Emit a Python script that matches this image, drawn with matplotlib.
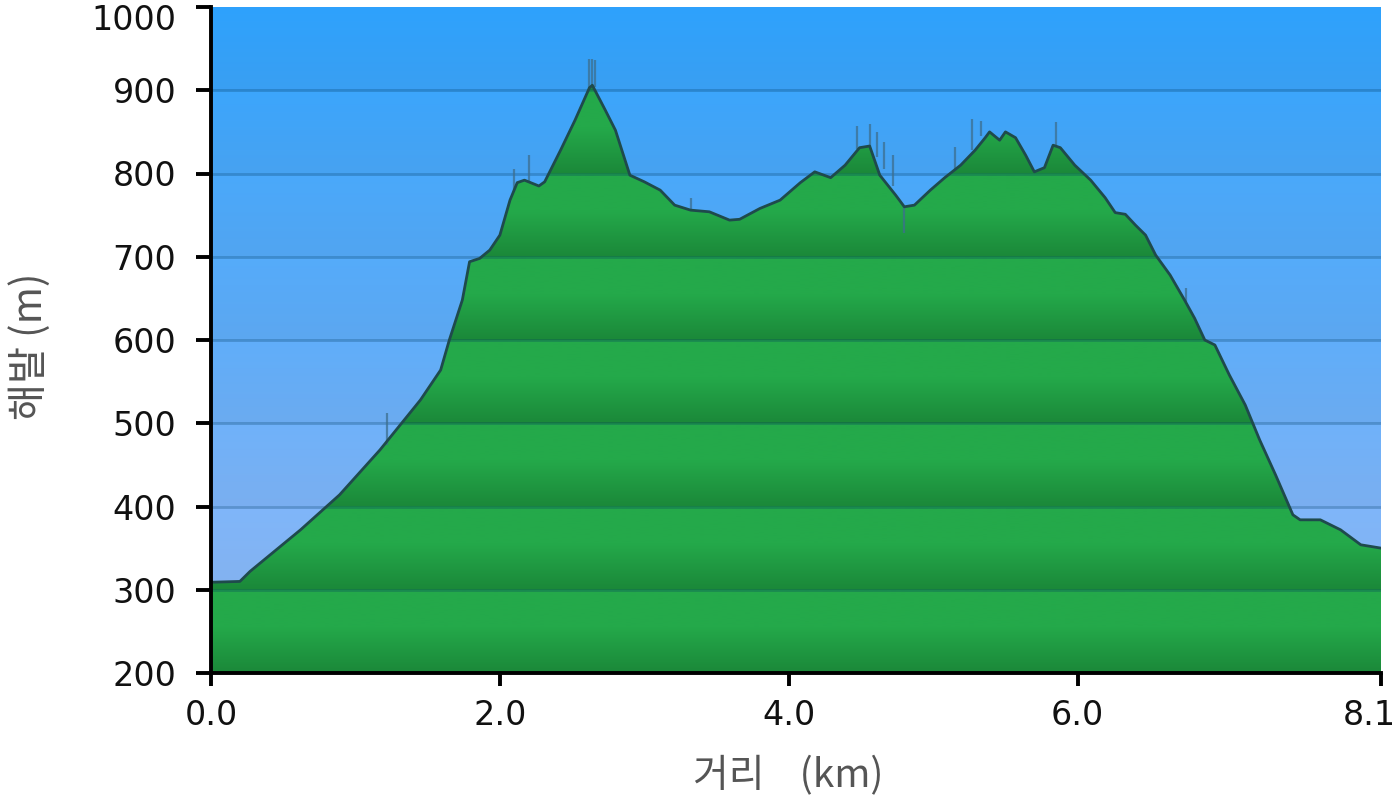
import numpy as np
import matplotlib
matplotlib.use("Agg")
import matplotlib.pyplot as plt
from matplotlib.colors import to_rgb
from matplotlib.patches import Polygon
from matplotlib.transforms import ScaledTranslation

# ---- data (distance km, elevation m) ----
dist = [0.0, 0.2, 0.27, 0.62, 0.89, 1.17, 1.45, 1.59, 1.65, 1.74, 1.79, 1.86, 1.93, 2.0,
        2.07, 2.12, 2.17, 2.27, 2.31, 2.42, 2.52, 2.62, 2.64, 2.73, 2.80, 2.90, 3.0, 3.11,
        3.21, 3.32, 3.45, 3.59, 3.66, 3.80, 3.94, 4.08, 4.18, 4.29, 4.39, 4.49, 4.56, 4.63,
        4.74, 4.80, 4.87, 4.98, 5.08, 5.19, 5.29, 5.36, 5.39, 5.46, 5.50, 5.57, 5.64, 5.70,
        5.77, 5.83, 5.88, 5.98, 6.09, 6.19, 6.26, 6.33, 6.40, 6.47, 6.54, 6.64, 6.74, 6.81,
        6.88, 6.95, 7.05, 7.16, 7.26, 7.37, 7.49, 7.54, 7.68, 7.82, 7.96, 8.1]
elev = [309, 310, 322, 372, 414, 468, 528, 564, 600, 648, 694, 698, 708, 726,
        768, 789, 792, 785, 790, 828, 864, 903, 906, 876, 852, 798, 790, 780,
        762, 756, 754, 744, 745, 758, 768, 789, 802, 795, 810, 831, 833, 798,
        774, 760, 762, 780, 795, 810, 828, 843, 850, 840, 850, 843, 822, 802,
        807, 834, 831, 810, 792, 771, 753, 751, 738, 726, 702, 678, 648, 626,
        600, 594, 558, 522, 480, 438, 390, 384, 384, 372, 354, 350]

# noisy raw-GPS spikes: (distance, base elevation, tip elevation)
spike_x = [1.22, 2.10, 2.20, 2.62, 2.64, 2.66, 3.32, 4.47, 4.56, 4.61, 4.66, 4.72, 4.80,
           5.15, 5.27, 5.33, 5.85, 6.75]
spike_base = [474, 778, 790, 900, 906, 904, 756, 830, 833, 820, 805, 785, 760,
              805, 828, 845, 834, 646]
spike_tip = [512, 806, 822, 938, 938, 936, 770, 857, 860, 850, 838, 822, 728,
             832, 865, 863, 862, 662]

x_ticks = [0.0, 2.0, 4.0, 6.0, 8.1]
y_ticks = [200, 300, 400, 500, 600, 700, 800, 900, 1000]
x_label = "거리    (km)"
y_label = "해발 (m)"

# ---- figure ----
fig = plt.figure(figsize=(14, 8.1), dpi=100)
ax = fig.add_axes([211 / 1400, 137 / 810, 1170 / 1400, 666 / 810])
ax.set_xlim(0, 8.1)
ax.set_ylim(200, 1000)

# sky gradient
N = 800
yy = np.linspace(1000, 200, N)
sky_nodes_y = [1000, 800, 600, 400, 200]
sky_nodes_c = [to_rgb(c) for c in ["#2ea2fd", "#4aa9fb", "#60aefa", "#7fb6fa", "#93bdf9"]]
sky = np.zeros((N, 1, 3))
for k in range(3):
    sky[:, 0, k] = np.interp(yy, sky_nodes_y[::-1], [c[k] for c in sky_nodes_c][::-1])
band_t = (1000 - yy) % 100 / 100.0
sky = sky * (1 - 0.04 * band_t)[:, None, None]
ax.imshow(sky, extent=[0, 8.1, 200, 1000], aspect="auto", origin="upper",
          interpolation="bilinear", zorder=0)

# green banded gradient clipped to profile
light = np.array(to_rgb("#24a94a"))
dark = np.array(to_rgb("#1b8839"))
w = np.clip((band_t - 0.45) / 0.55, 0, 1)[:, None]
green = light * (1 - w) + dark * w
green = green[:, None, :]
img = ax.imshow(green, extent=[0, 8.1, 200, 1000], aspect="auto", origin="upper",
                interpolation="bilinear", zorder=1)
poly_pts = [(dist[0], 200)] + list(zip(dist, elev)) + [(dist[-1], 200)]
clip = Polygon(poly_pts, closed=True, transform=ax.transData, facecolor="none",
               edgecolor="none")
ax.add_patch(clip)
img.set_clip_path(clip)

# gridlines
for yv in y_ticks[1:-1]:
    ax.axhline(yv, color="#003a60", alpha=0.28, lw=2.0, zorder=2)

# spikes and outline
ax.vlines(spike_x, spike_base, spike_tip, color="#3d6f8f", alpha=0.75, lw=1.6, zorder=3)
ax.plot(dist, elev, color="#1f4a4c", lw=2.0, zorder=4)

# axes styling
for s in ["top", "right"]:
    ax.spines[s].set_visible(False)
for s in ["left", "bottom"]:
    ax.spines[s].set_linewidth(2.8)
    ax.spines[s].set_color("black")
    ax.spines[s].set_zorder(5)
ax.set_xticks(x_ticks)
ax.set_xticklabels([f"{v:.1f}" for v in x_ticks])
ax.set_yticks(y_ticks)
ax.tick_params(axis="y", length=11, width=2.8, pad=14, labelsize=24)
ax.tick_params(axis="x", length=9, width=2.8, pad=10, labelsize=24)
for lab in ax.get_xticklabels() + ax.get_yticklabels():
    lab.set_family(["DejaVu Sans"])
    lab.set_color("#111111")

# nudge edge labels inward like the reference
fig.canvas.draw()
ylabs = ax.get_yticklabels()
ylabs[-1].set_transform(ylabs[-1].get_transform() +
                        ScaledTranslation(0, -10 / 100, fig.dpi_scale_trans))
xlabs = ax.get_xticklabels()
xlabs[-1].set_transform(xlabs[-1].get_transform() +
                        ScaledTranslation(-12 / 100, 0, fig.dpi_scale_trans))

fig.text(788 / 1400, 1 - 776 / 810, x_label, ha="center", va="center", fontsize=28,
         color="#555555", family=["Noto Sans CJK KR", "DejaVu Sans"])
fig.text(30 / 1400, 1 - 346 / 810, y_label, ha="center", va="center", fontsize=29,
         rotation=90, color="#555555", family=["Noto Sans CJK KR", "DejaVu Sans"])

fig.savefig("out.png", dpi=100)
